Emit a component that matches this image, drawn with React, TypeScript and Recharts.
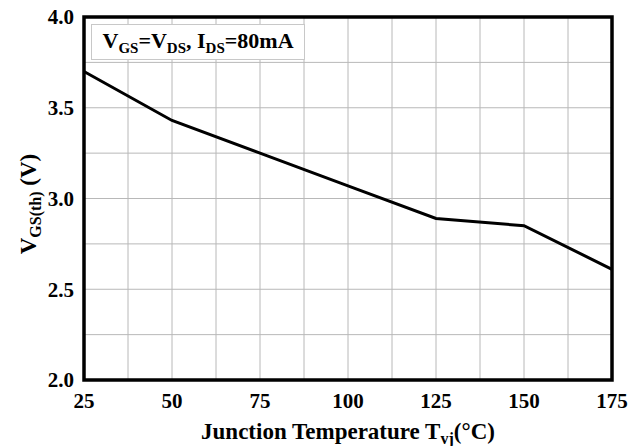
import { LineChart, Line, XAxis, YAxis, CartesianGrid, ReferenceArea } from 'recharts';

const temps = [25, 50, 75, 100, 125, 150, 175];
const vgsth = [3.7, 3.43, 3.25, 3.07, 2.89, 2.85, 2.61];
const xTicks = [25, 50, 75, 100, 125, 150, 175];
const yTicks = [2.0, 2.5, 3.0, 3.5, 4.0];
const xGrid = [37.5, 50, 62.5, 75, 87.5, 100, 112.5, 125, 137.5, 150, 162.5];
const yGrid = [2.25, 2.5, 2.75, 3.0, 3.25, 3.5, 3.75];

const data = temps.map((t, i) => ({ t, v: vgsth[i] }));
const FONT = '"Liberation Serif", "Times New Roman", serif';

const YLabel = () => {
  const cx = 36;
  const cy = 204;
  return (
    <text transform={`rotate(-90 ${cx} ${cy})`} x={cx} y={cy} textAnchor="middle" fontFamily={FONT} fontWeight="bold" fontSize={23} fill="#000">
      V<tspan fontSize={16} dy={5}>GS(th)</tspan><tspan dy={-5}> (V)</tspan>
    </text>
  );
};

const XLabel = ({ viewBox }: any) => {
  const cx = viewBox.x + viewBox.width / 2;
  return (
    <text x={cx} y={439} textAnchor="middle" fontFamily={FONT} fontWeight="bold" fontSize={23} fill="#000">
      Junction Temperature T<tspan fontSize={16} dy={5}>vj</tspan><tspan dy={-5}>(°C)</tspan>
    </text>
  );
};

export default function App() {
  return (
    <div style={{ position: 'fixed', left: 0, top: 0, width: 639, height: 446, background: '#fff' }}>
      <LineChart width={639} height={446} data={data} margin={{ top: 17, right: 27, left: 0, bottom: 0 }}>
        <CartesianGrid stroke="#b8b8b8" strokeWidth={1} horizontalValues={yGrid} verticalValues={xGrid} />
        <XAxis
          dataKey="t"
          type="number"
          domain={[25, 175]}
          ticks={xTicks}
          height={66}
          tickLine={false}
          axisLine={false}
          tick={{ fontFamily: FONT, fontWeight: 'bold', fontSize: 21, fill: '#000', dy: 5 }}
          label={<XLabel />}
        />
        <YAxis
          type="number"
          domain={[2, 4]}
          ticks={yTicks}
          width={84}
          tickLine={false}
          axisLine={false}
          tickFormatter={(v: number) => v.toFixed(1)}
          tick={{ fontFamily: FONT, fontWeight: 'bold', fontSize: 21, fill: '#000', dx: -2 }}
          label={<YLabel />}
        />
        <ReferenceArea x1={25} x2={175} y1={2} y2={4} fill="none" fillOpacity={0} stroke="#000" strokeWidth={3.5} />
        <Line dataKey="v" type="linear" stroke="#000" strokeWidth={3} dot={false} isAnimationActive={false} />
      </LineChart>
      <div
        style={{
          position: 'absolute', left: 91, top: 24, width: 214, height: 36, boxSizing: 'border-box',
          border: '1px solid #c8c8c8', background: '#fff', fontFamily: FONT, fontWeight: 'bold',
          fontSize: 22, lineHeight: '32px', textAlign: 'center', whiteSpace: 'nowrap',
        }}
      >
        V<sub style={{ fontSize: 15, verticalAlign: -5, lineHeight: 0 }}>GS</sub>=V<sub style={{ fontSize: 15, verticalAlign: -5, lineHeight: 0 }}>DS</sub>, I<sub style={{ fontSize: 15, verticalAlign: -5, lineHeight: 0 }}>DS</sub>=80mA
      </div>
    </div>
  );
}
